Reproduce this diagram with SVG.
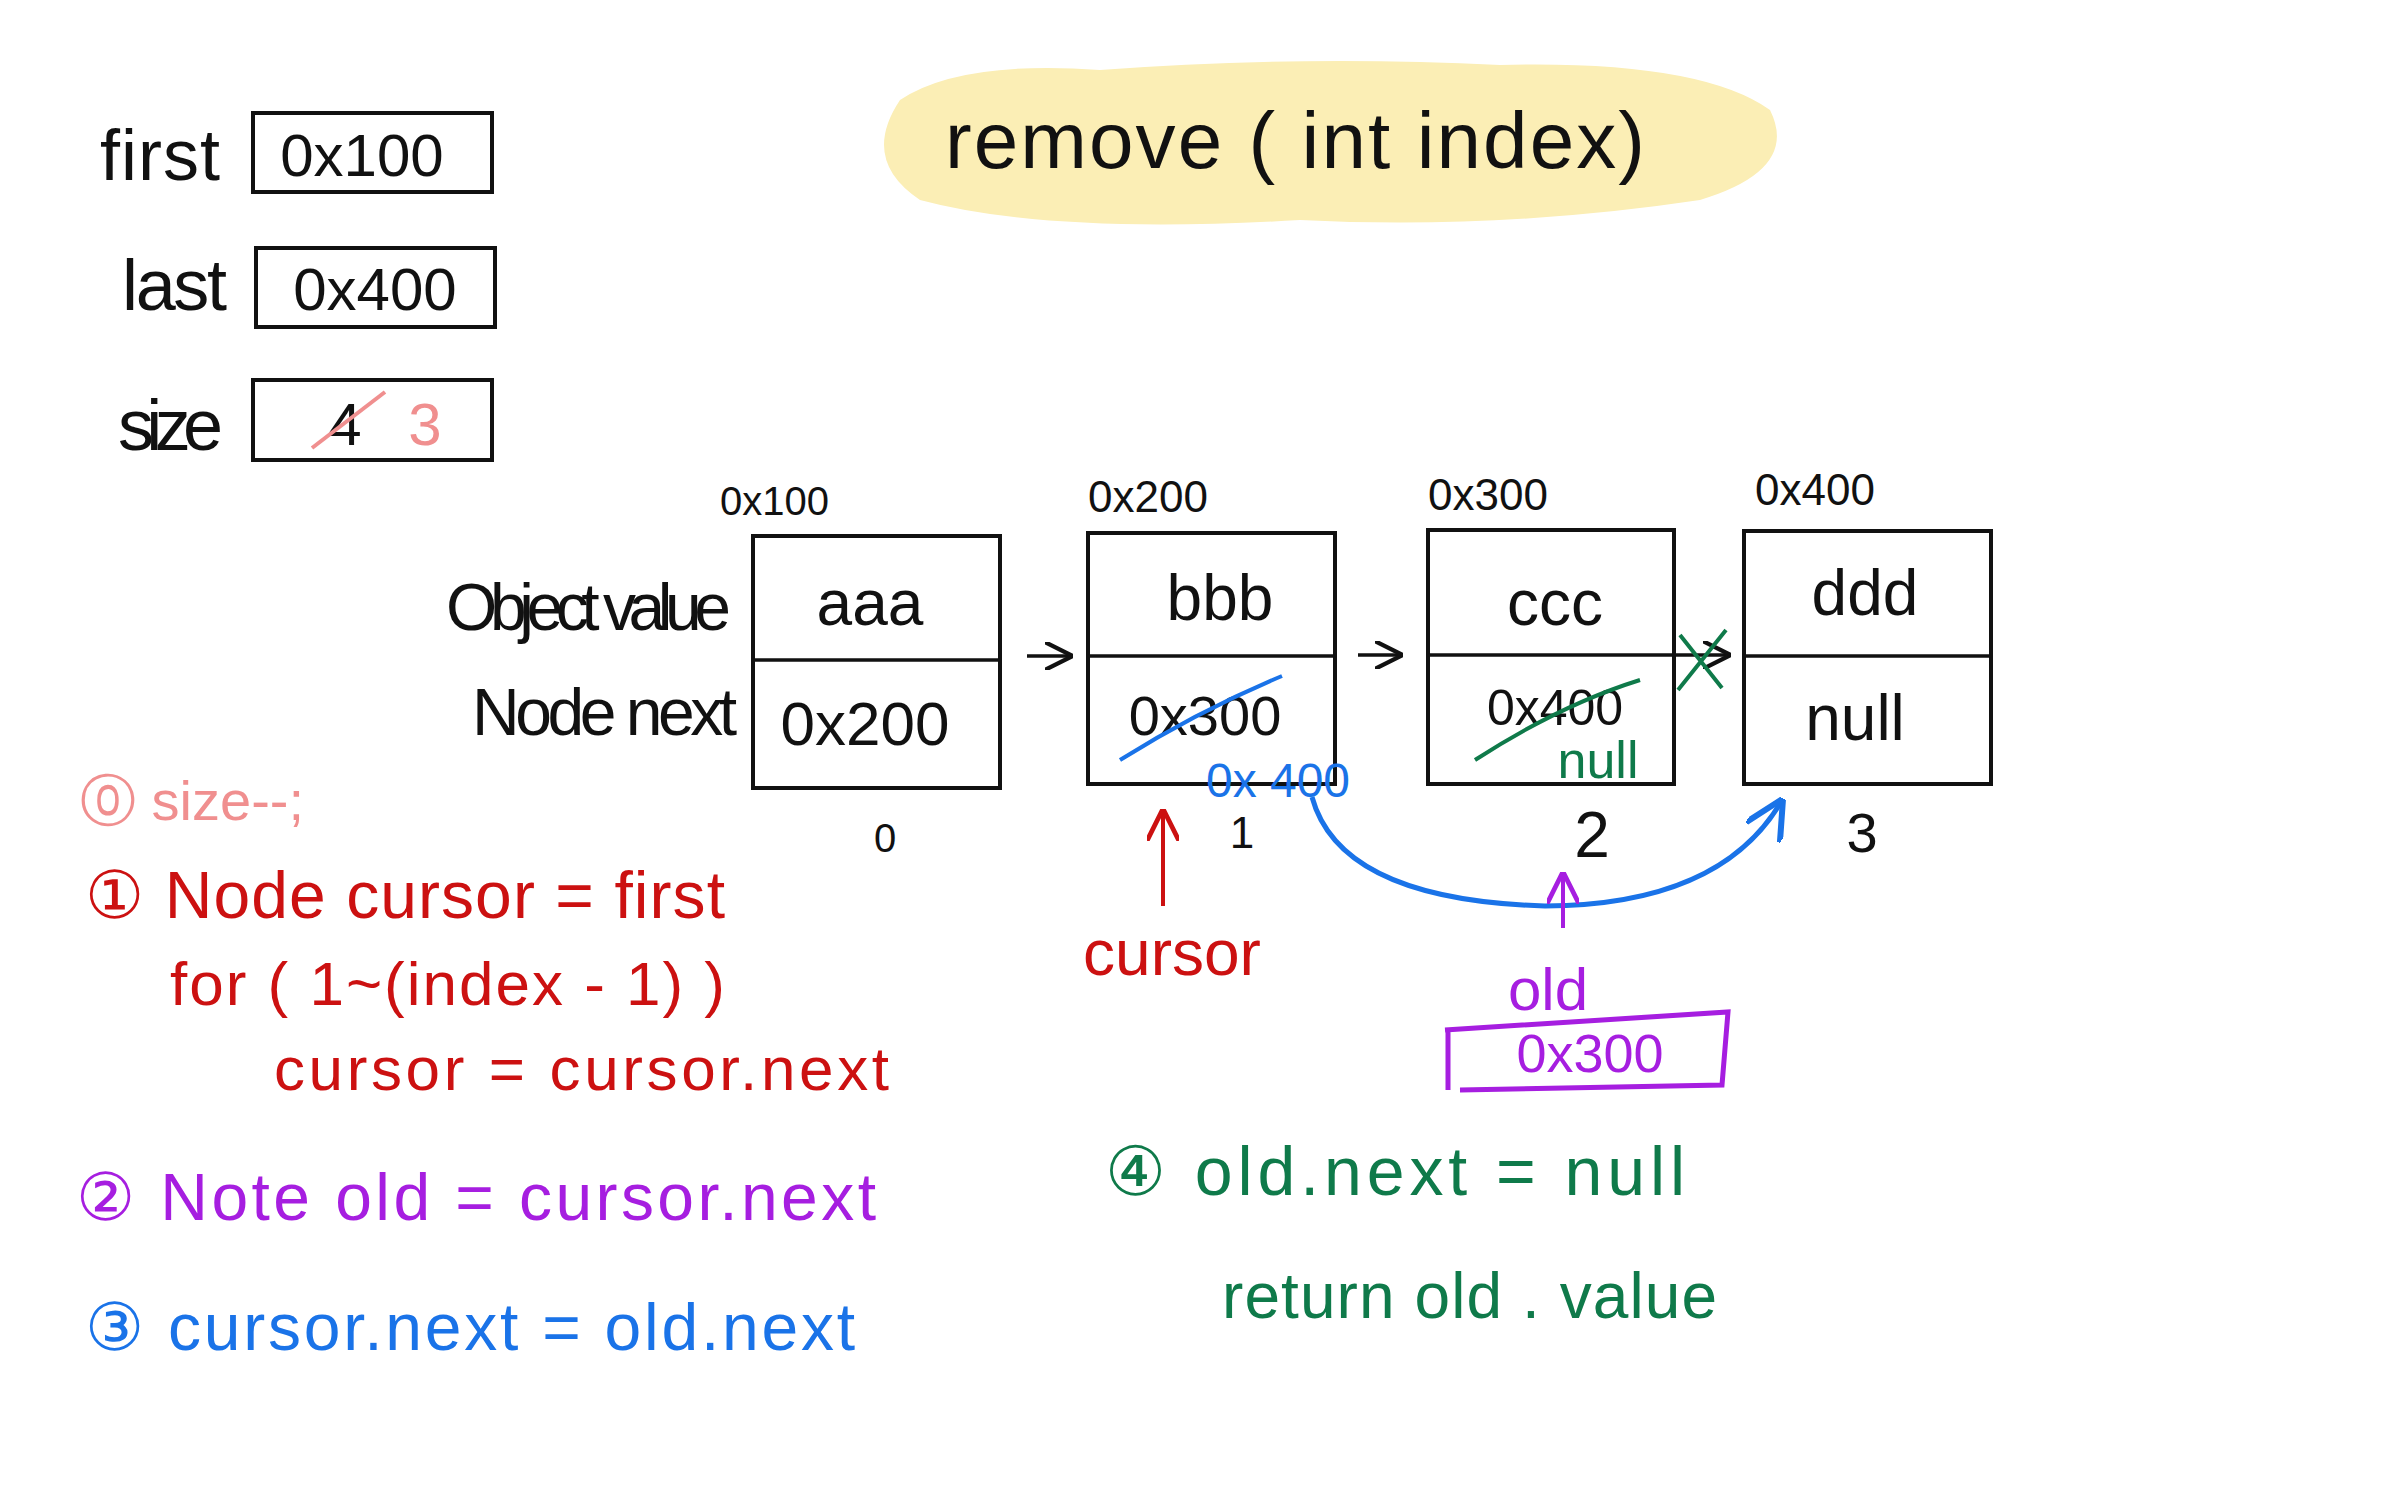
<svg xmlns="http://www.w3.org/2000/svg" width="2386" height="1491" viewBox="0 0 2386 1491">
<style>
text{font-family:"Liberation Sans","DejaVu Sans",sans-serif}
.k{fill:#111}
.box{fill:none;stroke:#111;stroke-width:4}
.ln{stroke:#111;stroke-width:3.5;fill:none}
.red{fill:#cc1111}.pur{fill:#a61ee0}.blu{fill:#1a73e8}.grn{fill:#0f7a4a}.pnk{fill:#f08f8f}
</style>
<defs>
<marker id="ah" viewBox="0 0 10 10" refX="9" refY="5" markerWidth="8" markerHeight="8" orient="auto"><path d="M0,0 L10,5 L0,10" fill="none" stroke="context-stroke" stroke-width="1.5"/></marker>
</defs>
<rect width="2386" height="1491" fill="#fff"/>
<g id="title">
<path d="M900,100 Q960,60 1100,70 Q1300,55 1500,65 Q1700,60 1770,110 Q1800,170 1700,200 Q1500,230 1300,220 Q1050,235 920,200 Q860,160 900,100Z" fill="#fbeeb5"/>
<text x="945" y="168" font-size="80" textLength="700" class="k">remove ( int  index)</text>
</g>
<g id="vars">
<text x="100" y="180" font-size="72" textLength="120" class="k">first</text>
<rect x="253" y="113" width="239" height="79" class="box"/>
<text x="362" y="176" font-size="60" text-anchor="middle" class="k">0x100</text>
<text x="122" y="310" font-size="72" textLength="105" class="k">last</text>
<rect x="256" y="248" width="239" height="79" class="box"/>
<text x="375" y="310" font-size="60" text-anchor="middle" class="k">0x400</text>
<text x="118" y="450" font-size="72" textLength="105" class="k">size</text>
<rect x="253" y="380" width="239" height="80" class="box"/>
<text x="345" y="445" font-size="60" text-anchor="middle" class="k">4</text>
<line x1="312" y1="448" x2="385" y2="392" stroke="#f08f8f" stroke-width="4"/>
<text x="425" y="445" font-size="60" text-anchor="middle" class="pnk">3</text>
</g>
<g id="labels">
<text x="446" y="630" font-size="66" textLength="285" class="k">Object  value</text>
<text x="472" y="735" font-size="66" textLength="265" class="k">Node  next</text>
</g>
<g id="node0">
<text x="720" y="515" font-size="40" class="k">0x100</text>
<rect x="753" y="536" width="247" height="252" class="box"/>
<line x1="753" y1="660" x2="1000" y2="660" class="ln"/>
<text x="870" y="625" font-size="64" text-anchor="middle" class="k">aaa</text>
<text x="865" y="745" font-size="62" text-anchor="middle" class="k">0x200</text>
<text x="885" y="852" font-size="40" text-anchor="middle" class="k">0</text>
</g>
<g id="node1">
<text x="1088" y="512" font-size="44" class="k">0x200</text>
<rect x="1088" y="533" width="247" height="251" class="box"/>
<line x1="1088" y1="656" x2="1335" y2="656" class="ln"/>
<text x="1220" y="620" font-size="64" text-anchor="middle" class="k">bbb</text>
<text x="1205" y="735" font-size="56" text-anchor="middle" class="k">0x300</text>
<path d="M1120,760 Q1200,710 1282,676" stroke="#1a73e8" stroke-width="4" fill="none"/>
<text x="1278" y="797" font-size="48" text-anchor="middle" class="blu">0x 400</text>
<text x="1242" y="848" font-size="44" text-anchor="middle" class="k">1</text>
</g>
<g id="node2">
<text x="1428" y="510" font-size="44" class="k">0x300</text>
<rect x="1428" y="530" width="246" height="254" class="box"/>
<line x1="1428" y1="655" x2="1674" y2="655" class="ln"/>
<text x="1555" y="725" font-size="50" text-anchor="middle" class="k">0x400</text>
<text x="1555" y="625" font-size="64" text-anchor="middle" class="k">ccc</text>
<path d="M1475,760 Q1560,705 1640,680" stroke="#0f7a4a" stroke-width="4" fill="none"/>
<text x="1598" y="778" font-size="52" text-anchor="middle" class="grn">null</text>
<text x="1592" y="857" font-size="64" text-anchor="middle" class="k">2</text>
</g>
<g id="node3">
<text x="1755" y="505" font-size="44" class="k">0x400</text>
<rect x="1744" y="531" width="247" height="253" class="box"/>
<line x1="1744" y1="656" x2="1991" y2="656" class="ln"/>
<text x="1865" y="615" font-size="64" text-anchor="middle" class="k">ddd</text>
<text x="1855" y="740" font-size="64" text-anchor="middle" class="k">null</text>
<text x="1862" y="852" font-size="56" text-anchor="middle" class="k">3</text>
</g>
<g id="connectors">
<line x1="1027" y1="656" x2="1070" y2="656" class="ln" marker-end="url(#ah)"/>
<line x1="1358" y1="655" x2="1400" y2="655" class="ln" marker-end="url(#ah)"/>
<line x1="1676" y1="655" x2="1728" y2="655" class="ln" marker-end="url(#ah)"/>
<path d="M1678,690 L1726,630 M1680,635 L1722,688" stroke="#0f7a4a" stroke-width="4" fill="none"/>
<path d="M1312,797 Q1340,900 1545,906 Q1720,905 1781,802" stroke="#1a73e8" stroke-width="5" fill="none" marker-end="url(#ah)"/>
<line x1="1563" y1="928" x2="1563" y2="875" stroke="#a61ee0" stroke-width="4" marker-end="url(#ah)"/>
<line x1="1163" y1="906" x2="1163" y2="812" stroke="#cc1111" stroke-width="4" marker-end="url(#ah)"/>
</g>
<g id="cursor"><text x="1172" y="975" font-size="64" text-anchor="middle" class="red">cursor</text></g>
<g id="old">
<text x="1548" y="1010" font-size="60" text-anchor="middle" class="pur">old</text>
<path d="M1448,1030 L1448,1090 M1445,1030 L1728,1012 L1722,1085 L1460,1090" stroke="#a61ee0" stroke-width="5" fill="none"/>
<text x="1590" y="1072" font-size="54" text-anchor="middle" class="pur">0x300</text>
</g>
<g id="code">
<text x="80" y="820" font-size="56" class="pnk">⓪  size--;</text>
<text x="85" y="918" font-size="66" textLength="640" class="red">① Node  cursor = first</text>
<text x="170" y="1005" font-size="62" textLength="555" class="red">for ( 1~(index - 1) )</text>
<text x="274" y="1090" font-size="62" textLength="615" class="red">cursor = cursor.next</text>
<text x="76" y="1220" font-size="66" textLength="800" class="pur">② Note  old  =  cursor.next</text>
<text x="85" y="1350" font-size="66" textLength="770" class="blu">③ cursor.next = old.next</text>
<text x="1105" y="1195" font-size="68" textLength="580" class="grn">④  old.next  = null</text>
<text x="1222" y="1318" font-size="64" textLength="495" class="grn">return   old . value</text>
</g>
</svg>
